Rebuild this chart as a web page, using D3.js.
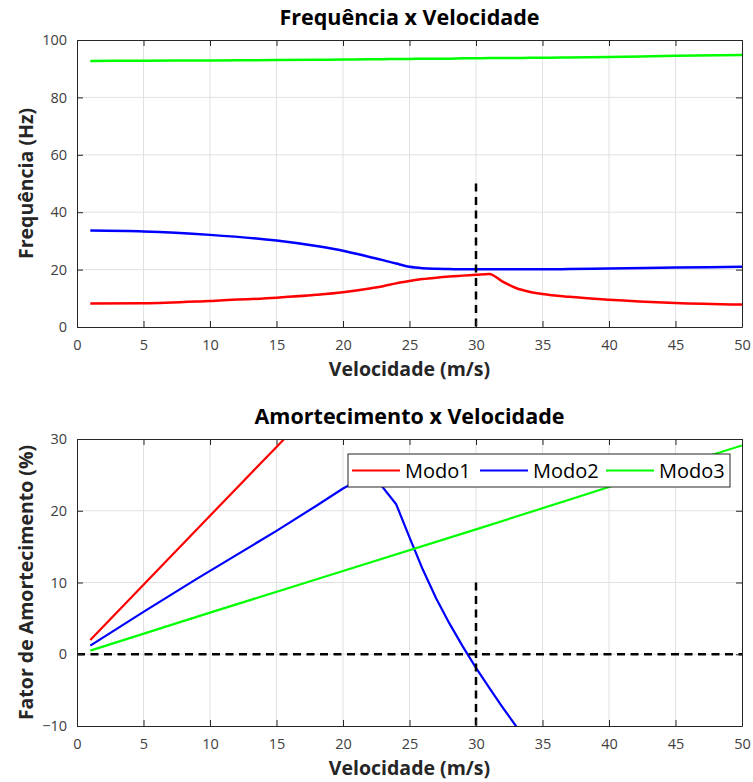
<!DOCTYPE html>
<html>
<head>
<meta charset="utf-8">
<script src="https://cdn.jsdelivr.net/npm/d3@7"></script>
<style>
  body { margin: 0; background: #fff; }
  svg { display: block; font-family: "Open Sans", sans-serif; }
</style>
</head>
<body>
<div id="chart"></div>
<script>
// Frequency vs speed (top)
const freqVel = [1, 5, 10, 15, 18, 20, 22, 23, 24, 25, 26, 27, 28, 29, 30, 31, 32, 33, 34, 35, 37, 40, 45, 50];
const freqModo1 = [8.2, 8.3, 9.1, 10.2, 11.2, 12.1, 13.4, 14.2, 15.2, 16.0, 16.7, 17.2, 17.6, 17.9, 18.2, 18.5, 15.8, 13.6, 12.3, 11.5, 10.5, 9.5, 8.4, 7.8];
const freqModo2 = [33.6, 33.3, 32.1, 30.1, 28.2, 26.6, 24.4, 23.3, 22.1, 21.0, 20.5, 20.3, 20.2, 20.1, 20.1, 20.1, 20.1, 20.1, 20.1, 20.1, 20.2, 20.4, 20.7, 21.0];
const freqModo3 = [92.7, 92.8, 92.9, 93.0, 93.1, 93.2, 93.3, 93.3, 93.4, 93.4, 93.5, 93.5, 93.5, 93.6, 93.6, 93.7, 93.7, 93.7, 93.8, 93.8, 93.9, 94.1, 94.5, 94.8];

// Damping vs speed (bottom)
const dampVel1 = [1, 5, 10, 15, 16];
const dampModo1 = [2.0, 9.7, 19.3, 28.9, 30.8];
const dampVel2 = [1, 5, 9, 15, 18, 20, 21.5, 22.5, 24, 25, 26, 27, 28, 29, 30, 31, 32, 33, 34];
const dampModo2 = [1.2, 5.9, 10.5, 17.2, 20.7, 23.1, 24.6, 24.4, 20.9, 16.3, 11.8, 7.8, 4.3, 1.1, -1.9, -4.7, -7.4, -10.0, -12.5];
const dampVel3 = [1, 10, 20, 30, 40, 50];
const dampModo3 = [0.5, 5.8, 11.6, 17.4, 23.3, 29.1];

const seriesNames = ['Modo1', 'Modo2', 'Modo3'];
const seriesColors = ['#ff0000', '#0000ff', '#00ff00'];

const xTicks = [0, 5, 10, 15, 20, 25, 30, 35, 40, 45, 50];
const freqTicks = [0, 20, 40, 60, 80, 100];
const dampTicks = [-10, 0, 10, 20, 30];

// reference marks: flutter speed 30 m/s
const flutterSpeed = 30;

const width = 753;
const height = 782;
const svg = d3.select('#chart').append('svg')
  .attr('width', width)
  .attr('height', height);

const left = 77, right = 742;

function zip(xs, ys) {
  return xs.map((x, i) => ({ x: x, y: ys[i] }));
}

function panel(opts) {
  const g = svg.append('g');
  const x = d3.scaleLinear().domain([0, 50]).range([left, right]);
  const y = d3.scaleLinear().domain(opts.yDomain).range([opts.bottom, opts.top]);

  // grid
  g.append('g').selectAll('line').data(xTicks.slice(1, -1)).enter().append('line')
    .attr('x1', d => x(d)).attr('x2', d => x(d))
    .attr('y1', opts.top).attr('y2', opts.bottom)
    .attr('stroke', '#e1e1e1').attr('stroke-width', 1);
  g.append('g').selectAll('line').data(opts.yTicks.slice(1, -1)).enter().append('line')
    .attr('x1', left).attr('x2', right)
    .attr('y1', d => y(d)).attr('y2', d => y(d))
    .attr('stroke', '#e1e1e1').attr('stroke-width', 1);

  const clipId = 'clip' + opts.id;
  svg.append('clipPath').attr('id', clipId).append('rect')
    .attr('x', left).attr('y', opts.top)
    .attr('width', right - left).attr('height', opts.bottom - opts.top);

  const plot = g.append('g').attr('clip-path', `url(#${clipId})`);
  const line = d3.line().x(d => x(d.x)).y(d => y(d.y)).curve(opts.curve);

  opts.series.forEach((s, i) => {
    plot.append('path')
      .datum(s)
      .attr('fill', 'none')
      .attr('stroke', seriesColors[i])
      .attr('stroke-width', opts.lineWidth)
      .attr('stroke-linejoin', 'round')
      .attr('d', line);
  });

  // dashed reference lines
  opts.dashes.forEach(d => {
    plot.append('line')
      .attr('x1', x(d[0])).attr('y1', y(d[1]))
      .attr('x2', x(d[2])).attr('y2', y(d[3]))
      .attr('stroke', '#000').attr('stroke-width', 2.5)
      .attr('stroke-dasharray', '8,5.5');
  });

  // axes (box with inward ticks)
  const tick = 6;
  const axB = g.append('g').attr('transform', `translate(0,${opts.bottom})`)
    .call(d3.axisBottom(x).tickValues(xTicks).tickSizeInner(-tick).tickSizeOuter(0).tickPadding(13));
  const axT = g.append('g').attr('transform', `translate(0,${opts.top})`)
    .call(d3.axisTop(x).tickValues(xTicks).tickSizeInner(-tick).tickSizeOuter(0).tickFormat(''));
  const axL = g.append('g').attr('transform', `translate(${left},0)`)
    .call(d3.axisLeft(y).tickValues(opts.yTicks).tickSizeInner(-tick).tickSizeOuter(0).tickPadding(10));
  const axR = g.append('g').attr('transform', `translate(${right},0)`)
    .call(d3.axisRight(y).tickValues(opts.yTicks).tickSizeInner(-tick).tickSizeOuter(0).tickFormat(''));
  [axB, axT, axL, axR].forEach(a => {
    a.select('.domain').attr('stroke', '#262626');
    a.selectAll('.tick line').attr('stroke', '#262626');
    a.selectAll('.tick text').attr('font-family', '"Open Sans", sans-serif').attr('font-size', 14.5).attr('fill', '#404040');
  });
  axB.selectAll('.tick text').attr('dy', '0.71em');

  // title + labels
  g.append('text')
    .attr('x', (left + right) / 2).attr('y', opts.top - 15)
    .attr('text-anchor', 'middle')
    .attr('font-size', 21.5).attr('font-weight', 'bold').attr('fill', '#000')
    .text(opts.title);
  g.append('text')
    .attr('x', (left + right) / 2).attr('y', opts.bottom + 49)
    .attr('text-anchor', 'middle')
    .attr('font-size', 19.5).attr('font-weight', 'bold').attr('fill', '#262626')
    .text('Velocidade (m/s)');
  g.append('text')
    .attr('transform', `translate(33,${(opts.top + opts.bottom) / 2}) rotate(-90)`)
    .attr('text-anchor', 'middle')
    .attr('font-size', 19.5).attr('font-weight', 'bold').attr('fill', '#262626')
    .text(opts.yLabel);

  return { g, x, y };
}

panel({
  id: 1,
  top: 40, bottom: 327,
  yDomain: [0, 100], yTicks: freqTicks,
  title: 'Frequência x Velocidade',
  yLabel: 'Frequência (Hz)',
  lineWidth: 2.5,
  curve: d3.curveMonotoneX,
  series: [zip(freqVel, freqModo1), zip(freqVel, freqModo2), zip(freqVel, freqModo3)],
  dashes: [[flutterSpeed, 50, flutterSpeed, 0]]
});

panel({
  id: 2,
  top: 439, bottom: 726,
  yDomain: [-10, 30], yTicks: dampTicks,
  title: 'Amortecimento x Velocidade',
  yLabel: 'Fator de Amortecimento (%)',
  lineWidth: 2.2,
  curve: d3.curveLinear,
  series: [zip(dampVel1, dampModo1), zip(dampVel2, dampModo2), zip(dampVel3, dampModo3)],
  dashes: [[0, 0, 50, 0], [flutterSpeed, 10, flutterSpeed, -10]]
});

// legend
const legend = svg.append('g').attr('transform', 'translate(348,454)');
legend.append('rect')
  .attr('width', 382).attr('height', 33)
  .attr('fill', '#fff').attr('stroke', '#262626').attr('stroke-width', 1);
const itemX = [4, 132, 258];
seriesNames.forEach((name, i) => {
  const item = legend.append('g').attr('transform', `translate(${itemX[i]},0)`);
  item.append('line')
    .attr('x1', 0).attr('x2', 48).attr('y1', 16.5).attr('y2', 16.5)
    .attr('stroke', seriesColors[i]).attr('stroke-width', 2.2);
  item.append('text')
    .attr('x', 53).attr('y', 23.5)
    .attr('font-size', 20).attr('fill', '#000')
    .text(name);
});
</script>
</body>
</html>
